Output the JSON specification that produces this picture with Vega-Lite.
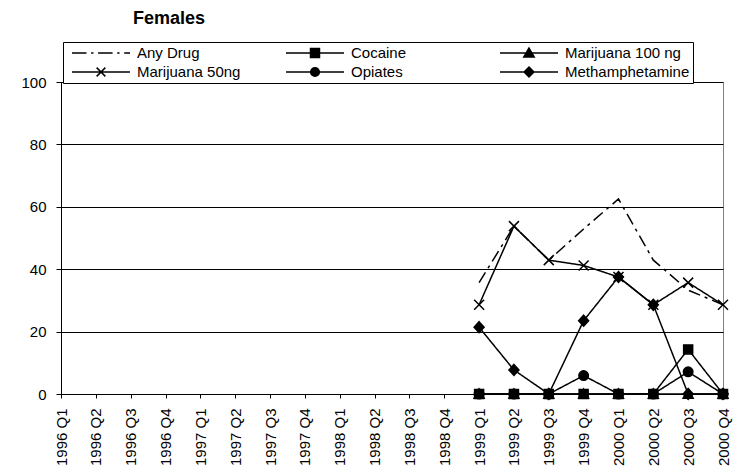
{
  "$schema": "https://vega.github.io/schema/vega-lite/v6.json",
  "width": 662,
  "height": 312,
  "autosize": "none",
  "padding": {"left": 61, "top": 82, "right": 20, "bottom": 78},
  "background": "white",
  "title": {"text": "Females", "anchor": "start", "frame": "group", "dx": 72, "dy": -10, "fontSize": 18, "fontWeight": "bold", "font": "Liberation Sans", "color": "black"},
  "data": {"values": [
    {"series": "Any Drug", "quarter": "1999 Q1", "value": 35.7},
    {"series": "Any Drug", "quarter": "1999 Q2", "value": 53.8},
    {"series": "Any Drug", "quarter": "1999 Q3", "value": 42.9},
    {"series": "Any Drug", "quarter": "1999 Q4", "value": 52.9},
    {"series": "Any Drug", "quarter": "2000 Q1", "value": 62.5},
    {"series": "Any Drug", "quarter": "2000 Q2", "value": 42.9},
    {"series": "Any Drug", "quarter": "2000 Q3", "value": 33.3},
    {"series": "Any Drug", "quarter": "2000 Q4", "value": 28.6},
    {"series": "Methamphetamine", "quarter": "1999 Q1", "value": 21.4},
    {"series": "Methamphetamine", "quarter": "1999 Q2", "value": 7.7},
    {"series": "Methamphetamine", "quarter": "1999 Q3", "value": 0},
    {"series": "Methamphetamine", "quarter": "1999 Q4", "value": 23.5},
    {"series": "Methamphetamine", "quarter": "2000 Q1", "value": 37.5},
    {"series": "Methamphetamine", "quarter": "2000 Q2", "value": 28.6},
    {"series": "Methamphetamine", "quarter": "2000 Q3", "value": 0},
    {"series": "Methamphetamine", "quarter": "2000 Q4", "value": 0},
    {"series": "Opiates", "quarter": "1999 Q1", "value": 0},
    {"series": "Opiates", "quarter": "1999 Q2", "value": 0},
    {"series": "Opiates", "quarter": "1999 Q3", "value": 0},
    {"series": "Opiates", "quarter": "1999 Q4", "value": 5.9},
    {"series": "Opiates", "quarter": "2000 Q1", "value": 0},
    {"series": "Opiates", "quarter": "2000 Q2", "value": 0},
    {"series": "Opiates", "quarter": "2000 Q3", "value": 7.1},
    {"series": "Opiates", "quarter": "2000 Q4", "value": 0},
    {"series": "Marijuana 50ng", "quarter": "1999 Q1", "value": 28.6},
    {"series": "Marijuana 50ng", "quarter": "1999 Q2", "value": 53.8},
    {"series": "Marijuana 50ng", "quarter": "1999 Q3", "value": 42.9},
    {"series": "Marijuana 50ng", "quarter": "1999 Q4", "value": 41.2},
    {"series": "Marijuana 50ng", "quarter": "2000 Q1", "value": 37.5},
    {"series": "Marijuana 50ng", "quarter": "2000 Q2", "value": 28.6},
    {"series": "Marijuana 50ng", "quarter": "2000 Q3", "value": 35.7},
    {"series": "Marijuana 50ng", "quarter": "2000 Q4", "value": 28.6},
    {"series": "Marijuana 100 ng", "quarter": "1999 Q1", "value": 0},
    {"series": "Marijuana 100 ng", "quarter": "1999 Q2", "value": 0},
    {"series": "Marijuana 100 ng", "quarter": "1999 Q3", "value": 0},
    {"series": "Marijuana 100 ng", "quarter": "1999 Q4", "value": 0},
    {"series": "Marijuana 100 ng", "quarter": "2000 Q1", "value": 0},
    {"series": "Marijuana 100 ng", "quarter": "2000 Q2", "value": 0},
    {"series": "Marijuana 100 ng", "quarter": "2000 Q3", "value": 0},
    {"series": "Marijuana 100 ng", "quarter": "2000 Q4", "value": 0},
    {"series": "Cocaine", "quarter": "1999 Q1", "value": 0},
    {"series": "Cocaine", "quarter": "1999 Q2", "value": 0},
    {"series": "Cocaine", "quarter": "1999 Q3", "value": 0},
    {"series": "Cocaine", "quarter": "1999 Q4", "value": 0},
    {"series": "Cocaine", "quarter": "2000 Q1", "value": 0},
    {"series": "Cocaine", "quarter": "2000 Q2", "value": 0},
    {"series": "Cocaine", "quarter": "2000 Q3", "value": 14.3},
    {"series": "Cocaine", "quarter": "2000 Q4", "value": 0}
  ]},
  "encoding": {
    "x": {
      "field": "quarter", "type": "ordinal",
      "scale": {"type": "point", "padding": 0, "domain": ["1996 Q1","1996 Q2","1996 Q3","1996 Q4","1997 Q1","1997 Q2","1997 Q3","1997 Q4","1998 Q1","1998 Q2","1998 Q3","1998 Q4","1999 Q1","1999 Q2","1999 Q3","1999 Q4","2000 Q1","2000 Q2","2000 Q3","2000 Q4"]},
      "axis": {"title": null, "labelAngle": 270, "labelAlign": "right", "labelBaseline": "middle", "labelFontSize": 15, "labelFont": "Liberation Sans", "labelColor": "black", "labelPadding": 10, "tickSize": 4, "tickColor": "black", "domainColor": "black", "grid": false, "labelOverlap": false}
    },
    "y": {
      "field": "value", "type": "quantitative",
      "scale": {"domain": [0, 100], "nice": false},
      "axis": {"title": null, "values": [0, 20, 40, 60, 80, 100], "grid": true, "gridColor": "black", "gridOpacity": 1, "gridWidth": 1, "tickSize": 5, "tickColor": "black", "domainColor": "black", "labelPadding": 10, "labelFontSize": 15, "labelFont": "Liberation Sans", "labelColor": "black"}
    }
  },
  "layer": [
    {
      "mark": {"type": "line", "color": "black", "strokeWidth": 1.5},
      "encoding": {
        "strokeDash": {"field": "series", "type": "nominal", "legend": null,
          "scale": {"domain": ["Any Drug", "Cocaine", "Marijuana 100 ng", "Marijuana 50ng", "Opiates", "Methamphetamine"],
                    "range": [[12, 5, 3, 5], [1, 0], [1, 0], [1, 0], [1, 0], [1, 0]]}}
      }
    },
    {
      "transform": [{"filter": "datum.series !== 'Any Drug'"}],
      "mark": {"type": "point", "filled": true, "color": "black", "stroke": "black", "strokeWidth": 1.5, "opacity": 1, "size": 100},
      "encoding": {
        "shape": {"field": "series", "type": "nominal", "legend": null,
          "scale": {"domain": ["Cocaine", "Marijuana 100 ng", "Marijuana 50ng", "Opiates", "Methamphetamine"],
                    "range": ["M-0.9,-0.9H0.9V0.9H-0.9Z", "M0,-1L1,0.85L-1,0.85Z", "M-1,-1L1,1M-1,1L1,-1", "M0.95,0A0.95,0.95 0 1,1 -0.95,0A0.95,0.95 0 1,1 0.95,0Z", "M0,-1.1L1,0L0,1.1L-1,0Z"]}}
      }
    },
    {
      "transform": [{"filter": "false"}],
      "mark": {"type": "point", "filled": true, "color": "black", "stroke": "black", "strokeWidth": 1.5, "opacity": 1},
      "encoding": {
        "shape": {"field": "series", "type": "nominal",
          "scale": {"domain": ["Any Drug", "Marijuana 50ng", "Cocaine", "Opiates", "Marijuana 100 ng", "Methamphetamine"],
                    "range": [
                      "M-1,0H-0.5M-0.34,0H-0.26M-0.1,0H0.4M0.56,0H0.64M0.8,0H1",
                      "M-1,0H1M-0.15,-0.15L0.15,0.15M-0.15,0.15L0.15,-0.15",
                      "M-1,0H1M-0.155,-0.155H0.155V0.155H-0.155Z",
                      "M-1,0H1M0.15,0A0.15,0.15 0 1,1 -0.15,0A0.15,0.15 0 1,1 0.15,0Z",
                      "M-1,0H1M0,-0.17L0.18,0.14L-0.18,0.14Z",
                      "M-1,0H1M0,-0.17L0.17,0L0,0.17L-0.17,0Z"
                    ]},
          "legend": {
            "title": null, "orient": "none", "legendX": 2, "legendY": -40,
            "columns": 3, "gridAlign": "all", "columnPadding": 18, "rowPadding": 3,
            "padding": 3, "clipHeight": 16, "symbolSize": 3364, "symbolOffset": 5, "labelOffset": 6,
            "labelFontSize": 15, "labelFont": "Liberation Sans", "labelColor": "black", "labelLimit": 300,
            "strokeColor": "black", "fillColor": "white",
            "encode": {"symbols": {"update": {"fill": {"value": "black"}, "stroke": {"value": "black"}, "strokeWidth": {"value": 1.5}, "opacity": {"value": 1}}}}
          }
        }
      }
    }
  ],
  "resolve": {"scale": {"shape": "independent"}},
  "config": {
    "font": "Liberation Sans",
    "view": {"stroke": "#808080", "strokeWidth": 1}
  }
}
